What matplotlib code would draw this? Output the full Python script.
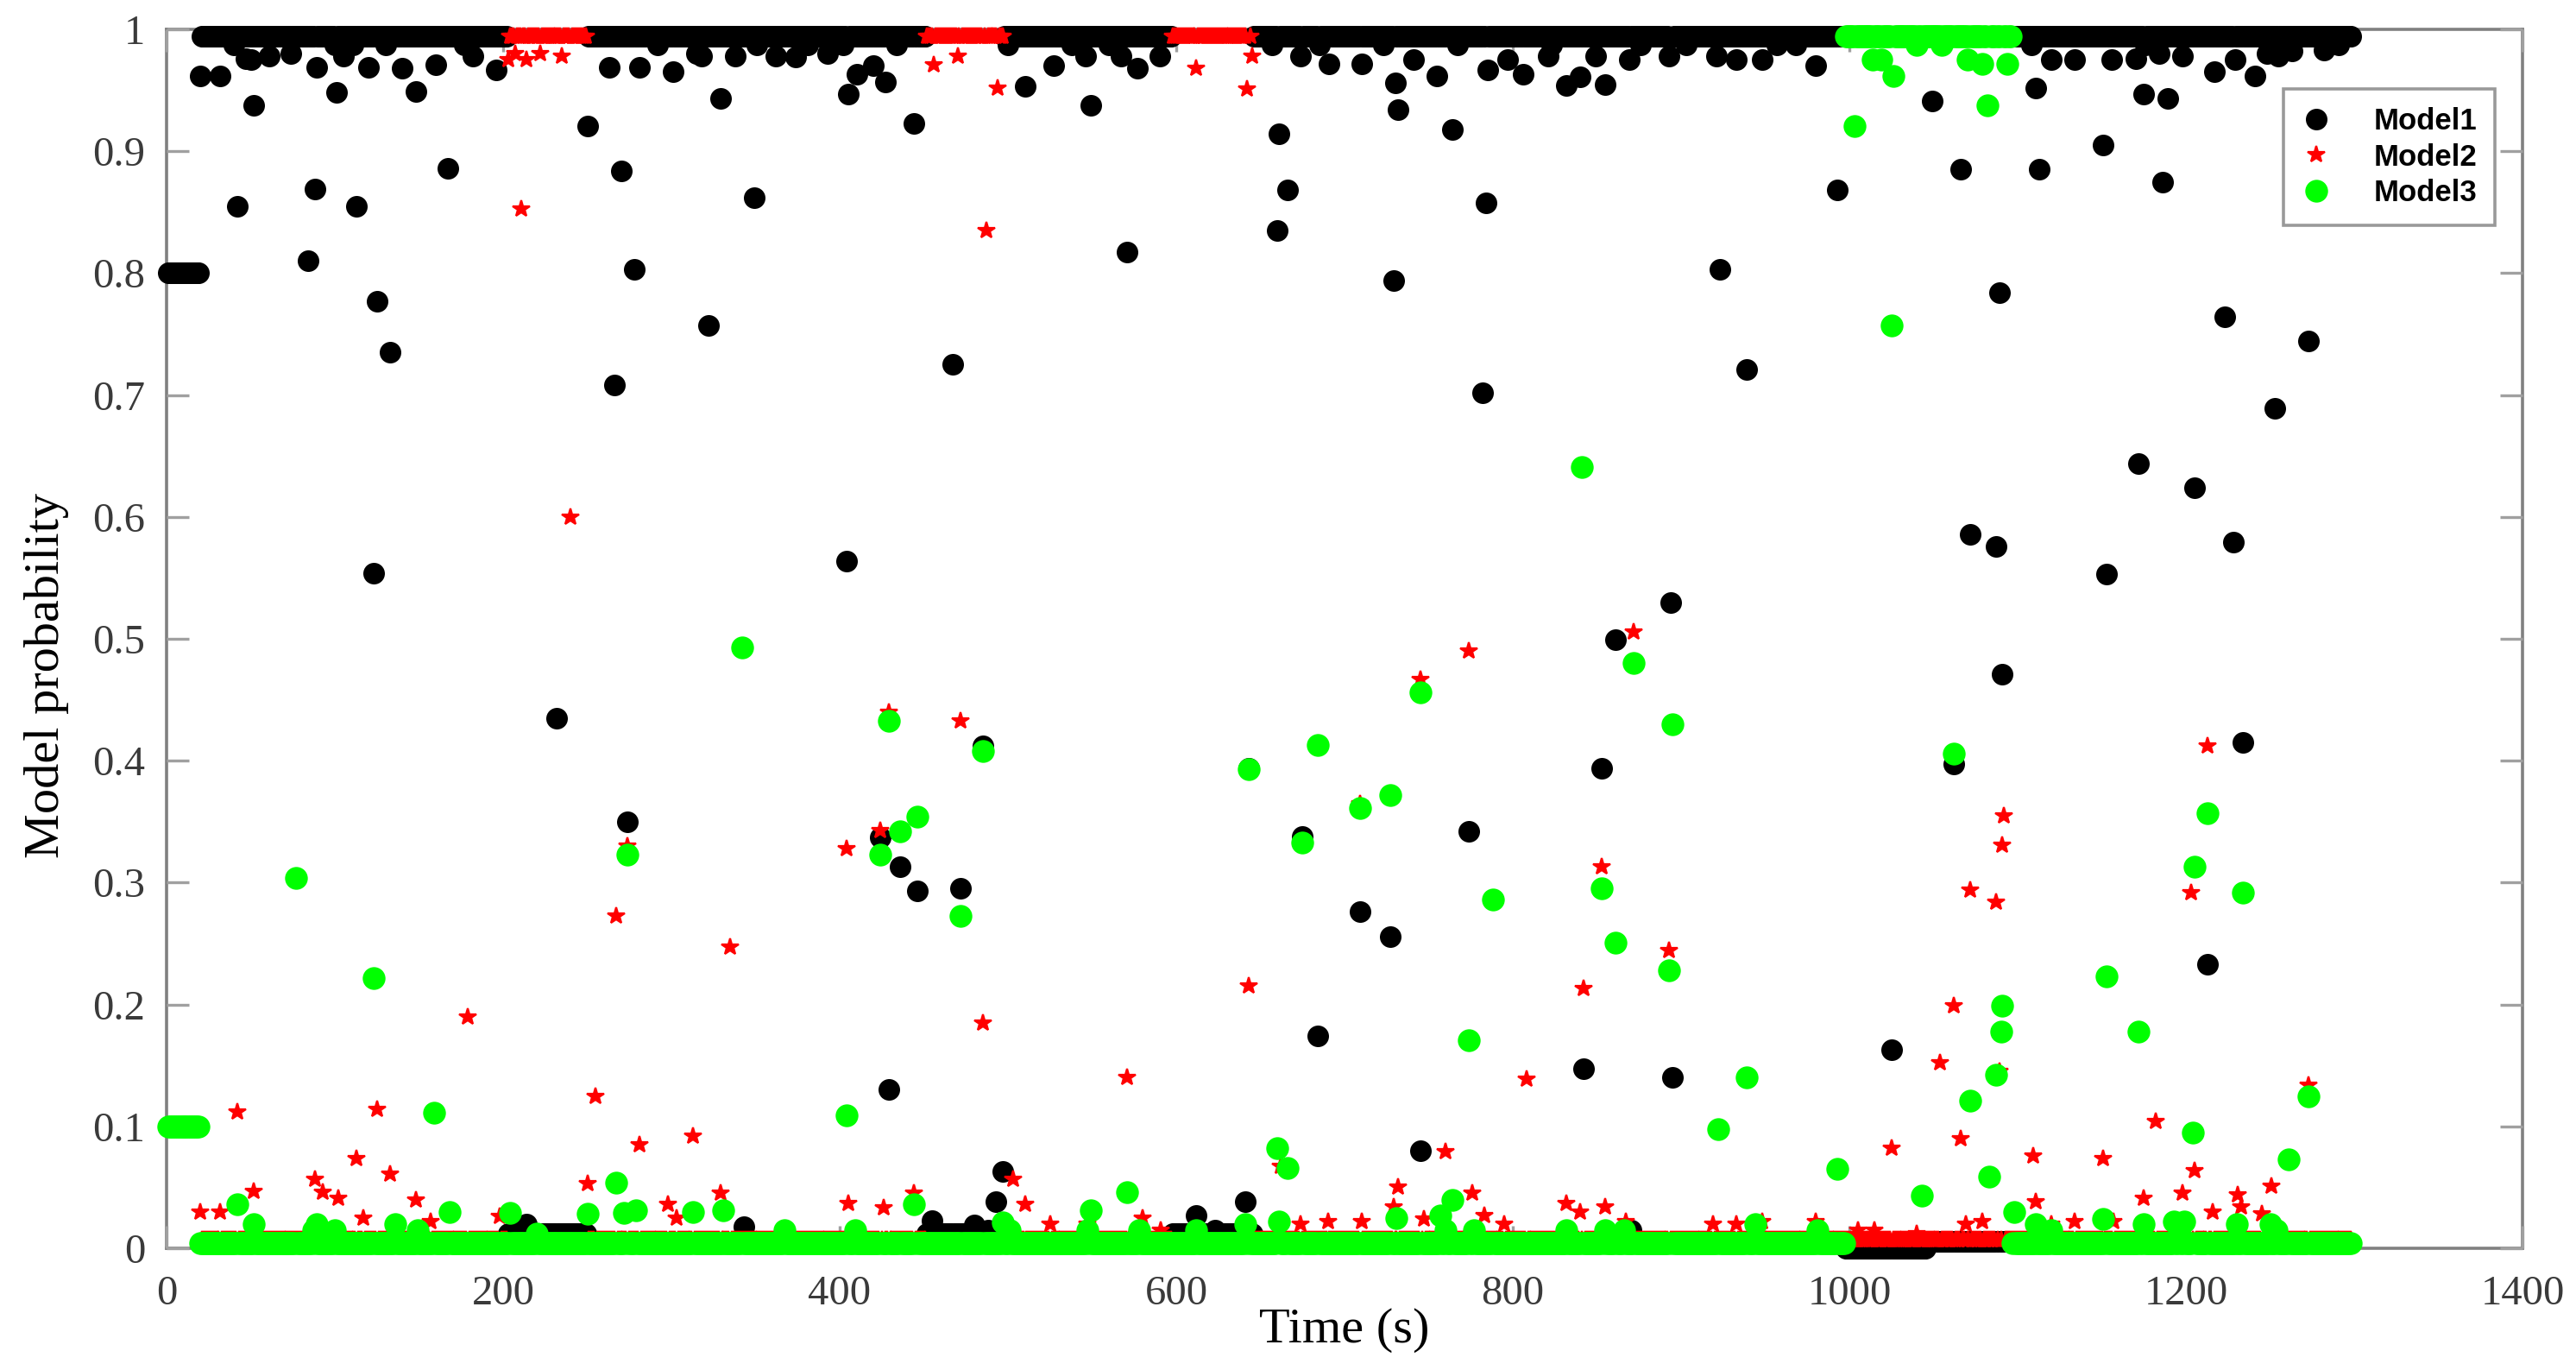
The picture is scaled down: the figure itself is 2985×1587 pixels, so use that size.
import numpy as np
import matplotlib
matplotlib.use('Agg')
import matplotlib.pyplot as plt

plt.rcParams['font.family'] = ['Liberation Serif', 'DejaVu Serif']

# time steps (s)
t = np.arange(1, 1299)

# stretches of the run and the level each model sits at in them
seg_start = [20, 203, 250, 452, 498, 598, 646, 998, 1046, 1097]
seg_end = [202, 249, 451, 497, 597, 645, 997, 1045, 1096, 1298]
lvl_m1 = [0.994, 0.012, 0.994, 0.012, 0.994, 0.012, 0.994, 0.0, 0.006, 0.994]
lvl_m2 = [0.007, 0.994, 0.007, 0.994, 0.007, 0.994, 0.007, 0.007, 0.007, 0.007]
lvl_m3 = [0.004, 0.004, 0.004, 0.004, 0.004, 0.004, 0.004, 0.994, 0.994, 0.004]

# start-up values, t = 1..19
init_end = 19
init_m1, init_m2, init_m3 = 0.8, 0.1, 0.1

# points off the bands
m1_t = [20, 32, 42, 47, 52, 61, 74, 84, 88, 89, 101, 105, 113, 120, 123, 125, 133, 140, 148, 160,
        167, 182, 196, 208, 214, 228, 232, 236, 241, 250, 263, 266, 270, 274, 278, 281, 301, 318,
        322, 329, 338, 343, 349, 362, 374, 393, 404, 405, 410, 420, 424, 427, 429, 436, 444, 446,
        455, 467, 472, 480, 485, 488, 493, 497, 510, 527, 546, 549, 567, 571, 577, 590, 612, 623,
        641, 643, 660, 661, 666, 674, 675, 684, 691, 709, 710, 727, 729, 730, 732, 741, 745, 755,
        764, 774, 782, 784, 785, 797, 806, 821, 832, 840, 842, 849, 853, 855, 861, 869, 870, 893,
        894, 895, 921, 923, 933, 939, 948, 980, 993, 1025, 1049, 1062, 1066, 1072, 1087, 1089,
        1091, 1111, 1113, 1120, 1134, 1151, 1153, 1156, 1170, 1172, 1175, 1186, 1189, 1198, 1205,
        1213, 1217, 1223, 1228, 1229, 1234, 1241, 1253, 1255, 1273]
m1_v = [0.962, 0.962, 0.855, 0.976, 0.938, 0.978, 0.980, 0.810, 0.869, 0.969, 0.948, 0.978, 0.855,
        0.969, 0.554, 0.777, 0.735, 0.968, 0.949, 0.971, 0.886, 0.978, 0.967, 0.018, 0.020, 0.012,
        0.435, 0.012, 0.012, 0.921, 0.969, 0.708, 0.884, 0.350, 0.803, 0.969, 0.965, 0.978, 0.757,
        0.943, 0.978, 0.018, 0.862, 0.978, 0.977, 0.980, 0.564, 0.947, 0.963, 0.970, 0.337, 0.957,
        0.130, 0.313, 0.923, 0.293, 0.023, 0.725, 0.295, 0.019, 0.412, 0.015, 0.038, 0.063, 0.953,
        0.970, 0.978, 0.938, 0.978, 0.817, 0.968, 0.978, 0.027, 0.015, 0.038, 0.394, 0.835, 0.914,
        0.868, 0.978, 0.338, 0.174, 0.972, 0.276, 0.972, 0.256, 0.794, 0.956, 0.934, 0.975, 0.080,
        0.962, 0.918, 0.342, 0.702, 0.858, 0.967, 0.975, 0.963, 0.978, 0.954, 0.961, 0.147, 0.978,
        0.394, 0.955, 0.499, 0.975, 0.015, 0.978, 0.530, 0.140, 0.978, 0.803, 0.975, 0.721, 0.975,
        0.970, 0.868, 0.163, 0.941, 0.397, 0.885, 0.586, 0.576, 0.784, 0.471, 0.952, 0.885, 0.975,
        0.975, 0.905, 0.553, 0.975, 0.976, 0.644, 0.947, 0.875, 0.943, 0.978, 0.624, 0.233, 0.965,
        0.764, 0.579, 0.975, 0.415, 0.962, 0.689, 0.978, 0.744]

# small dips under the top band
m1_drip_t = [40, 50, 100, 111, 130, 177, 292, 315, 351, 381, 402, 434, 500, 538, 560, 657, 685,
             723, 767, 823, 876, 903, 957, 968, 1108, 1176, 1184, 1248, 1257, 1263, 1282, 1291]
m1_drip_v = [0.987, 0.975, 0.987, 0.987, 0.987, 0.987, 0.987, 0.980, 0.987, 0.987, 0.987, 0.987,
             0.987, 0.987, 0.987, 0.987, 0.987, 0.987, 0.987, 0.987, 0.987, 0.987, 0.987, 0.987,
             0.987, 0.987, 0.980, 0.980, 0.987, 0.982, 0.983, 0.987]

m2_t = [20, 32, 42, 52, 88, 93, 102, 113, 117, 125, 133, 148, 157, 179, 198, 203, 207, 211, 214,
        222, 235, 240, 250, 255, 267, 274, 281, 298, 303, 313, 329, 335, 404, 405, 424, 426, 429,
        444, 456, 470, 472, 485, 487, 494, 503, 510, 525, 547, 571, 580, 591, 612, 642, 643, 645,
        662, 674, 690, 709, 710, 729, 732, 745, 747, 760, 774, 776, 783, 795, 808, 832, 840, 842,
        853, 855, 867, 872, 893, 919, 933, 948, 980, 1005, 1015, 1025, 1040, 1054, 1062, 1066,
        1069, 1072, 1079, 1087, 1089, 1091, 1092, 1109, 1111, 1120, 1134, 1151, 1157, 1175, 1182,
        1198, 1203, 1205, 1213, 1216, 1231, 1233, 1245, 1251, 1273]
m2_v = [0.030, 0.030, 0.112, 0.047, 0.057, 0.046, 0.041, 0.074, 0.025, 0.114, 0.061, 0.040, 0.022,
        0.190, 0.026, 0.975, 0.980, 0.853, 0.975, 0.980, 0.978, 0.600, 0.053, 0.125, 0.273, 0.330,
        0.085, 0.036, 0.025, 0.092, 0.045, 0.247, 0.328, 0.037, 0.343, 0.033, 0.440, 0.045, 0.971,
        0.978, 0.433, 0.185, 0.835, 0.952, 0.057, 0.036, 0.020, 0.020, 0.140, 0.025, 0.015, 0.968,
        0.951, 0.215, 0.978, 0.067, 0.020, 0.022, 0.365, 0.022, 0.034, 0.050, 0.467, 0.024, 0.079,
        0.490, 0.045, 0.027, 0.020, 0.139, 0.037, 0.030, 0.213, 0.313, 0.034, 0.022, 0.506, 0.244,
        0.020, 0.020, 0.022, 0.022, 0.015, 0.015, 0.082, 0.012, 0.152, 0.199, 0.090, 0.020, 0.294,
        0.022, 0.284, 0.145, 0.331, 0.355, 0.076, 0.038, 0.020, 0.022, 0.074, 0.022, 0.041, 0.104,
        0.045, 0.292, 0.064, 0.412, 0.030, 0.044, 0.034, 0.028, 0.051, 0.134]

m3_t = [42, 52, 77, 87, 89, 100, 123, 136, 149, 159, 168, 204, 220, 250, 267, 272, 274, 279, 313,
        331, 342, 367, 404, 409, 424, 429, 436, 444, 446, 472, 485, 497, 501, 547, 549, 571, 578,
        612, 641, 643, 660, 661, 666, 675, 684, 709, 727, 731, 745, 757, 760, 764, 774, 777, 788,
        832, 841, 853, 855, 861, 866, 872, 893, 895, 922, 939, 944, 981, 993, 1003, 1014, 1019,
        1025, 1026, 1040, 1043, 1055, 1062, 1070, 1072, 1079, 1082, 1083, 1087, 1090, 1091, 1094,
        1098, 1111, 1120, 1151, 1153, 1172, 1175, 1193, 1196, 1199, 1204, 1205, 1213, 1230, 1234,
        1250, 1254, 1261, 1273]
m3_v = [0.036, 0.020, 0.304, 0.015, 0.020, 0.015, 0.222, 0.020, 0.015, 0.111, 0.030, 0.029, 0.012,
        0.028, 0.054, 0.029, 0.323, 0.031, 0.030, 0.031, 0.493, 0.015, 0.109, 0.015, 0.323, 0.433,
        0.342, 0.036, 0.354, 0.273, 0.408, 0.021, 0.015, 0.015, 0.031, 0.046, 0.015, 0.015, 0.020,
        0.393, 0.082, 0.022, 0.066, 0.333, 0.413, 0.361, 0.372, 0.025, 0.456, 0.027, 0.015, 0.040,
        0.171, 0.015, 0.286, 0.015, 0.641, 0.295, 0.015, 0.251, 0.015, 0.480, 0.228, 0.430, 0.098,
        0.140, 0.020, 0.015, 0.065, 0.921, 0.975, 0.975, 0.757, 0.962, 0.987, 0.043, 0.987, 0.406,
        0.975, 0.121, 0.972, 0.938, 0.059, 0.142, 0.178, 0.199, 0.972, 0.030, 0.020, 0.015, 0.024,
        0.223, 0.178, 0.020, 0.022, 0.015, 0.022, 0.095, 0.313, 0.357, 0.020, 0.292, 0.020, 0.015,
        0.073, 0.125]

xticks = [0, 200, 400, 600, 800, 1000, 1200, 1400]
yticks = [0, 0.1, 0.2, 0.3, 0.4, 0.5, 0.6, 0.7, 0.8, 0.9, 1]
ytick_labels = ['0', '0.1', '0.2', '0.3', '0.4', '0.5', '0.6', '0.7', '0.8', '0.9', '1']


def build(init, levels, pts_t, pts_v):
    p = np.empty(len(t))
    p[:init_end] = init
    for s, e, lv in zip(seg_start, seg_end, levels):
        p[s - 1:e] = lv
    p[np.array(pts_t) - 1] = pts_v
    return p


p1 = build(init_m1, lvl_m1, m1_t + m1_drip_t, m1_v + m1_drip_v)
p2 = build(init_m2, lvl_m2, m2_t, m2_v)
p3 = build(init_m3, lvl_m3, m3_t, m3_v)

fig = plt.figure(figsize=(14.925, 7.935), dpi=200)
ax = fig.add_axes([193 / 2985, 1 - 1446 / 1587, 2730 / 2985, 1412 / 1587])

ax.plot(t, p1, 'o', color='black', ms=9, mec='none', clip_on=False, label='Model1')
ax.plot(t, p2, '*', color='red', ms=7.5, mec='red', mew=0.8, clip_on=False, label='Model2')
ax.plot(t, p3, 'o', color='#00ff00', ms=9.5, mec='none', clip_on=False, label='Model3')

ax.set_xlim(0, 1400)
ax.set_ylim(0, 1)
ax.set_xticks(xticks)
ax.set_xticklabels([str(x) for x in xticks])
ax.set_yticks(yticks)
ax.set_yticklabels(ytick_labels)

for sp in ax.spines.values():
    sp.set_color('#808080')
    sp.set_linewidth(1.3)
    sp.set_zorder(0.5)

ax.tick_params(direction='in', length=9.5, width=1.2, color='#a0a0a0',
               labelcolor='#3a3a3a', labelsize=17.5, top=True, right=True)
ax.tick_params(axis='y', pad=9)
ax.tick_params(axis='x', pad=11)

ax.set_xlabel('Time (s)', fontsize=21, color='black')
ax.set_ylabel('Model probability', fontsize=21, color='black')
ax.xaxis.set_label_coords(0.5, -0.049)
ax.yaxis.set_label_coords(-0.0414, 0.47)

leg = ax.legend(loc='upper right', bbox_to_anchor=(2891 / 2985, 1 - 103 / 1587),
                bbox_transform=fig.transFigure, borderaxespad=0, frameon=True, fancybox=False,
                prop={'family': 'Liberation Sans', 'weight': 'bold', 'size': 12.5},
                handlelength=1.0, handletextpad=1.4, borderpad=0.6, labelspacing=0.25,
                numpoints=1)
leg.get_frame().set_edgecolor('#808080')
leg.get_frame().set_linewidth(1.3)
leg.set_zorder(5)

fig.savefig('out.png', dpi=200, facecolor='white')
